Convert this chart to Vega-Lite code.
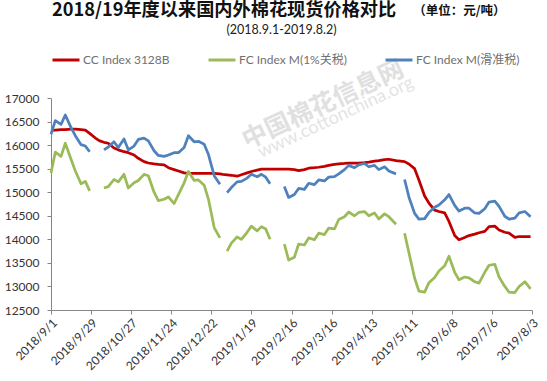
{
  "$schema": "https://vega.github.io/schema/vega-lite/v6.json",
  "width": 481,
  "height": 212,
  "autosize": {"type": "none"},
  "padding": {"left": 51, "top": 98, "right": 15, "bottom": 71},
  "background": "white",
  "config": {
    "view": {"stroke": null},
    "font": "Lato",
    "axis": {"labelFont": "Lato", "labelFontSize": 12, "labelColor": "#333333", "labelOverlap": false, "labelFlush": false, "domainColor": "#868686", "tickColor": "#868686", "tickSize": 4, "grid": false},
    "axisX": {"labelAngle": -45, "labelPadding": 3},
    "axisY": {"labelPadding": 8}
  },
  "resolve": {"axis": {"x": "independent", "y": "independent"}},
  "data": {"values": [
    {"date": "2018-09-01", "cc": 16310, "m1": 15410, "mh": 16230},
    {"date": "2018-09-04", "cc": 16320, "m1": 15850, "mh": 16520},
    {"date": "2018-09-08", "cc": 16330, "m1": 15760, "mh": 16440},
    {"date": "2018-09-11", "cc": 16330, "m1": 16040, "mh": 16640},
    {"date": "2018-09-15", "cc": 16340, "m1": 15700, "mh": 16370},
    {"date": "2018-09-18", "cc": 16340, "m1": 15450, "mh": 16200},
    {"date": "2018-09-22", "cc": 16330, "m1": 15180, "mh": 16010},
    {"date": "2018-09-25", "cc": 16320, "m1": 15230, "mh": 15980},
    {"date": "2018-09-28", "cc": 16250, "m1": 15030, "mh": 15860},
    {"date": "2018-10-02", "cc": 16150, "m1": null, "mh": null},
    {"date": "2018-10-05", "cc": 16090, "m1": null, "mh": null},
    {"date": "2018-10-08", "cc": 16060, "m1": 15090, "mh": 15900},
    {"date": "2018-10-11", "cc": 16040, "m1": 15120, "mh": 15960},
    {"date": "2018-10-15", "cc": 15940, "m1": 15270, "mh": 16070},
    {"date": "2018-10-18", "cc": 15900, "m1": 15220, "mh": 15950},
    {"date": "2018-10-22", "cc": 15860, "m1": 15380, "mh": 16130},
    {"date": "2018-10-25", "cc": 15840, "m1": 15090, "mh": 15900},
    {"date": "2018-10-29", "cc": 15790, "m1": 15200, "mh": 15980},
    {"date": "2018-11-01", "cc": 15720, "m1": 15250, "mh": 16120},
    {"date": "2018-11-05", "cc": 15650, "m1": 15380, "mh": 16150},
    {"date": "2018-11-08", "cc": 15620, "m1": 15350, "mh": 16090},
    {"date": "2018-11-12", "cc": 15600, "m1": 15000, "mh": 15880},
    {"date": "2018-11-15", "cc": 15590, "m1": 14820, "mh": 15780},
    {"date": "2018-11-19", "cc": 15580, "m1": 14850, "mh": 15760},
    {"date": "2018-11-22", "cc": 15520, "m1": 14900, "mh": 15790},
    {"date": "2018-11-26", "cc": 15480, "m1": 14760, "mh": 15840},
    {"date": "2018-11-29", "cc": 15450, "m1": 14950, "mh": 15840},
    {"date": "2018-12-03", "cc": 15410, "m1": 15200, "mh": 15950},
    {"date": "2018-12-06", "cc": 15400, "m1": 15440, "mh": 16200},
    {"date": "2018-12-10", "cc": 15400, "m1": 15250, "mh": 16070},
    {"date": "2018-12-13", "cc": 15400, "m1": 15260, "mh": 16080},
    {"date": "2018-12-17", "cc": 15400, "m1": 15150, "mh": 16020},
    {"date": "2018-12-20", "cc": 15400, "m1": 14850, "mh": 15800},
    {"date": "2018-12-24", "cc": 15400, "m1": 14250, "mh": 15350},
    {"date": "2018-12-28", "cc": 15390, "m1": 14030, "mh": 15170},
    {"date": "2018-12-30", "cc": 15380, "m1": null, "mh": null},
    {"date": "2019-01-02", "cc": 15370, "m1": 13750, "mh": 14990},
    {"date": "2019-01-05", "cc": 15360, "m1": 13920, "mh": 15100},
    {"date": "2019-01-09", "cc": 15340, "m1": 14050, "mh": 15220},
    {"date": "2019-01-12", "cc": 15370, "m1": 14000, "mh": 15230},
    {"date": "2019-01-16", "cc": 15410, "m1": 14150, "mh": 15300},
    {"date": "2019-01-19", "cc": 15440, "m1": 14280, "mh": 15380},
    {"date": "2019-01-23", "cc": 15470, "m1": 14180, "mh": 15330},
    {"date": "2019-01-26", "cc": 15490, "m1": 14270, "mh": 15380},
    {"date": "2019-01-29", "cc": 15490, "m1": 14220, "mh": 15320},
    {"date": "2019-02-01", "cc": 15490, "m1": 14000, "mh": 15180},
    {"date": "2019-02-05", "cc": 15490, "m1": null, "mh": null},
    {"date": "2019-02-08", "cc": 15490, "m1": null, "mh": null},
    {"date": "2019-02-11", "cc": 15490, "m1": 13900, "mh": 15120},
    {"date": "2019-02-14", "cc": 15490, "m1": 13560, "mh": 14890},
    {"date": "2019-02-18", "cc": 15480, "m1": 13620, "mh": 14950},
    {"date": "2019-02-21", "cc": 15460, "m1": 13900, "mh": 15080},
    {"date": "2019-02-25", "cc": 15480, "m1": 13880, "mh": 15060},
    {"date": "2019-02-28", "cc": 15510, "m1": 14030, "mh": 15190},
    {"date": "2019-03-04", "cc": 15520, "m1": 13990, "mh": 15160},
    {"date": "2019-03-07", "cc": 15530, "m1": 14130, "mh": 15260},
    {"date": "2019-03-11", "cc": 15550, "m1": 14100, "mh": 15240},
    {"date": "2019-03-14", "cc": 15570, "m1": 14240, "mh": 15320},
    {"date": "2019-03-18", "cc": 15590, "m1": 14220, "mh": 15330},
    {"date": "2019-03-21", "cc": 15600, "m1": 14420, "mh": 15390},
    {"date": "2019-03-25", "cc": 15610, "m1": 14480, "mh": 15480},
    {"date": "2019-03-28", "cc": 15620, "m1": 14580, "mh": 15570},
    {"date": "2019-04-01", "cc": 15620, "m1": 14500, "mh": 15520},
    {"date": "2019-04-04", "cc": 15620, "m1": 14570, "mh": 15580},
    {"date": "2019-04-08", "cc": 15630, "m1": 14590, "mh": 15610},
    {"date": "2019-04-11", "cc": 15640, "m1": 14500, "mh": 15540},
    {"date": "2019-04-15", "cc": 15660, "m1": 14560, "mh": 15570},
    {"date": "2019-04-18", "cc": 15670, "m1": 14430, "mh": 15480},
    {"date": "2019-04-22", "cc": 15690, "m1": 14540, "mh": 15540},
    {"date": "2019-04-25", "cc": 15700, "m1": 14480, "mh": 15450},
    {"date": "2019-04-30", "cc": 15670, "m1": 14320, "mh": 15390},
    {"date": "2019-05-03", "cc": 15660, "m1": null, "mh": null},
    {"date": "2019-05-06", "cc": 15650, "m1": 14130, "mh": 15270},
    {"date": "2019-05-09", "cc": 15600, "m1": 13720, "mh": 14900},
    {"date": "2019-05-13", "cc": 15500, "m1": 13180, "mh": 14550},
    {"date": "2019-05-16", "cc": 15260, "m1": 12900, "mh": 14430},
    {"date": "2019-05-20", "cc": 14920, "m1": 12880, "mh": 14440},
    {"date": "2019-05-23", "cc": 14770, "m1": 13080, "mh": 14570},
    {"date": "2019-05-27", "cc": 14620, "m1": 13190, "mh": 14680},
    {"date": "2019-05-30", "cc": 14590, "m1": 13330, "mh": 14730},
    {"date": "2019-06-03", "cc": 14560, "m1": 13440, "mh": 14840},
    {"date": "2019-06-06", "cc": 14380, "m1": 13640, "mh": 14950},
    {"date": "2019-06-10", "cc": 14080, "m1": 13300, "mh": 14720},
    {"date": "2019-06-13", "cc": 13990, "m1": 13140, "mh": 14600},
    {"date": "2019-06-17", "cc": 14040, "m1": 13200, "mh": 14660},
    {"date": "2019-06-20", "cc": 14080, "m1": 13180, "mh": 14660},
    {"date": "2019-06-24", "cc": 14110, "m1": 13100, "mh": 14560},
    {"date": "2019-06-27", "cc": 14140, "m1": 13070, "mh": 14550},
    {"date": "2019-07-01", "cc": 14170, "m1": 13300, "mh": 14650},
    {"date": "2019-07-04", "cc": 14270, "m1": 13450, "mh": 14790},
    {"date": "2019-07-08", "cc": 14280, "m1": 13470, "mh": 14810},
    {"date": "2019-07-11", "cc": 14200, "m1": 13200, "mh": 14700},
    {"date": "2019-07-15", "cc": 14150, "m1": 13000, "mh": 14490},
    {"date": "2019-07-18", "cc": 14130, "m1": 12880, "mh": 14430},
    {"date": "2019-07-22", "cc": 14040, "m1": 12870, "mh": 14450},
    {"date": "2019-07-25", "cc": 14060, "m1": 13000, "mh": 14560},
    {"date": "2019-07-29", "cc": 14060, "m1": 13100, "mh": 14590},
    {"date": "2019-08-02", "cc": 14060, "m1": 12950, "mh": 14480}
  ]},
  "layer": [
    {
      "data": {"values": [{}]},
      "mark": {"type": "text", "text": "中国棉花信息网", "font": "Noto Sans CJK SC", "fontWeight": "bold", "fontSize": 25, "angle": -25, "color": "#e0e0e0", "align": "center", "baseline": "middle"},
      "encoding": {
        "x": {"datum": {"year": 2019, "month": 3, "date": 10, "utc": true}, "type": "temporal", "axis": null},
        "y": {"datum": 16858, "type": "quantitative", "axis": null}
      }
    },
    {
      "data": {"values": [{}]},
      "mark": {"type": "text", "text": "www.cottonchina.org", "font": "Lato", "fontSize": 18, "angle": -25, "color": "#e4e4e4", "align": "center", "baseline": "middle"},
      "encoding": {
        "x": {"datum": {"year": 2019, "month": 3, "date": 19, "utc": true}, "type": "temporal", "axis": null},
        "y": {"datum": 16580, "type": "quantitative", "axis": null}
      }
    },
    {
      "transform": [{"fold": ["cc", "m1", "mh"], "as": ["series", "price"]}],
      "mark": {"type": "line", "strokeWidth": 2.75, "strokeJoin": "round"},
      "encoding": {
        "x": {
          "field": "date", "type": "temporal", "title": null,
          "scale": {"type": "utc", "domain": [{"year": 2018, "month": 9, "date": 1, "utc": true}, {"year": 2019, "month": 8, "date": 3, "utc": true}]},
          "axis": {
            "values": [
              {"year": 2018, "month": 9, "date": 1, "utc": true},
              {"year": 2018, "month": 9, "date": 29, "utc": true},
              {"year": 2018, "month": 10, "date": 27, "utc": true},
              {"year": 2018, "month": 11, "date": 24, "utc": true},
              {"year": 2018, "month": 12, "date": 22, "utc": true},
              {"year": 2019, "month": 1, "date": 19, "utc": true},
              {"year": 2019, "month": 2, "date": 16, "utc": true},
              {"year": 2019, "month": 3, "date": 16, "utc": true},
              {"year": 2019, "month": 4, "date": 13, "utc": true},
              {"year": 2019, "month": 5, "date": 11, "utc": true},
              {"year": 2019, "month": 6, "date": 8, "utc": true},
              {"year": 2019, "month": 7, "date": 6, "utc": true},
              {"year": 2019, "month": 8, "date": 3, "utc": true}
            ],
            "labelExpr": "utcFormat(datum.value, '%Y/%-m/%-d')",
            "labelOverlap": false
          }
        },
        "y": {
          "field": "price", "type": "quantitative", "title": null,
          "scale": {"domain": [12500, 17000], "nice": false, "zero": false},
          "axis": {
            "values": [12500, 13000, 13500, 14000, 14500, 15000, 15500, 16000, 16500, 17000],
            "labelExpr": "'' + datum.value", "labelOverlap": false
          }
        },
        "color": {
          "field": "series", "type": "nominal",
          "scale": {"domain": ["cc", "m1", "mh"], "range": ["#C00000", "#9BBB59", "#4F81BD"]},
          "legend": {
            "orient": "none", "legendX": 0, "legendY": -53, "direction": "horizontal",
            "title": null, "symbolType": "stroke", "symbolSize": 729, "symbolStrokeWidth": 3,
            "labelFont": "Lato, Noto Sans CJK SC", "labelFontSize": 12, "labelColor": "#707070",
            "labelOffset": 2, "columnPadding": 32,
            "labelExpr": "datum.value == 'cc' ? 'CC Index 3128B' : datum.value == 'm1' ? 'FC Index M(1%关税)' : 'FC Index M(滑准税)'"
          }
        }
      }
    },
    {
      "data": {"values": [{}]},
      "mark": {"type": "text", "text": "2018/19年度以来国内外棉花现货价格对比", "font": "Noto Sans CJK SC", "fontWeight": "bold", "fontSize": 18.2, "color": "#111111", "align": "left", "baseline": "middle", "dx": 1},
      "encoding": {
        "x": {"datum": {"year": 2018, "month": 9, "date": 1, "utc": true}, "type": "temporal", "axis": null},
        "y": {"datum": 18840, "type": "quantitative", "axis": null}
      }
    },
    {
      "data": {"values": [{}]},
      "mark": {"type": "text", "text": "（单位：元/吨）", "font": "Noto Sans CJK SC", "fontWeight": "bold", "fontSize": 12.5, "color": "#111111", "align": "left", "baseline": "middle"},
      "encoding": {
        "x": {"datum": {"year": 2019, "month": 5, "date": 12, "utc": true}, "type": "temporal", "axis": null},
        "y": {"datum": 18840, "type": "quantitative", "axis": null}
      }
    },
    {
      "data": {"values": [{}]},
      "mark": {"type": "text", "text": "(2018.9.1-2019.8.2)", "font": "Lato", "fontSize": 12.5, "color": "#222222", "align": "center", "baseline": "middle"},
      "encoding": {
        "x": {"datum": {"year": 2019, "month": 2, "date": 9, "utc": true}, "type": "temporal", "axis": null},
        "y": {"datum": 18450, "type": "quantitative", "axis": null}
      }
    }
  ]
}
